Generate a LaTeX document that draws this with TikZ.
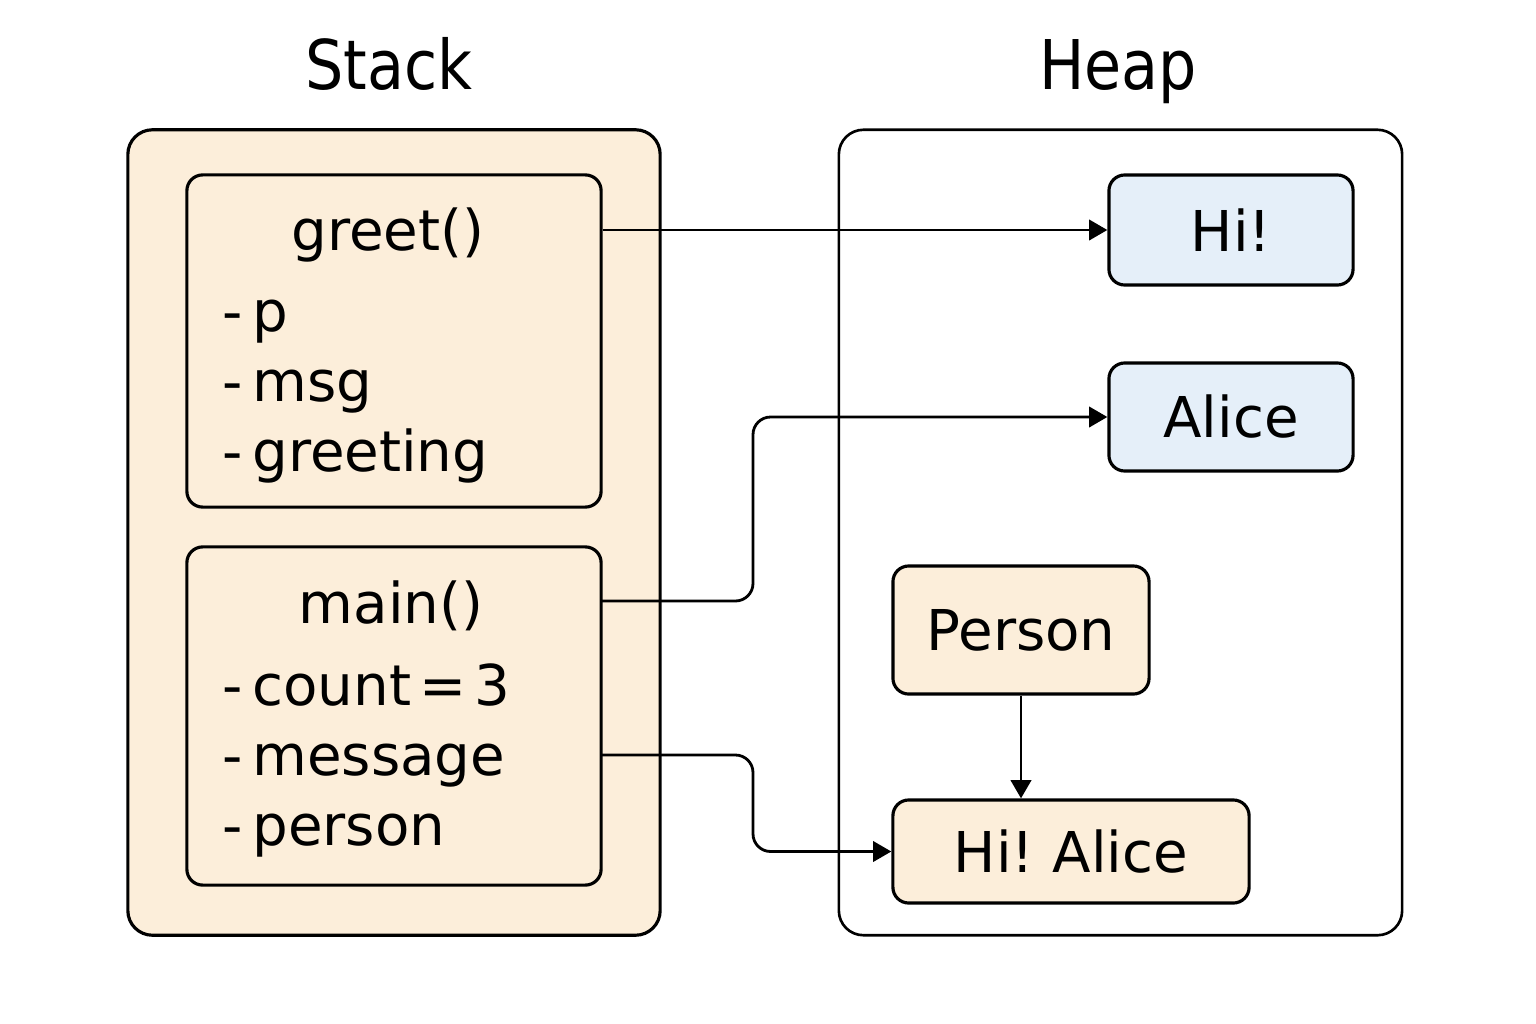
\documentclass[tikz,border=0pt]{standalone}
\usepackage{fontspec}
\setmainfont{DejaVu Sans}
\newfontfamily\titlefont{DejaVu Sans}[FakeStretch=0.88]
\usetikzlibrary{arrows.meta}
\definecolor{stackfill}{HTML}{FCEEDA}
\definecolor{heapblue}{HTML}{E5EFF9}

\begin{document}
\begin{tikzpicture}[x=0.01cm,y=-0.01cm,
	frame/.style={draw,line width=0.9pt,rounded corners=7pt,inner sep=0pt},
	cell/.style={draw,line width=0.9pt,rounded corners=4.5pt,inner sep=0pt,font=\fontsize{16}{19}\selectfont},
	item/.style={anchor=base west,inner sep=0pt,font=\fontsize{16}{19}\selectfont},
	title/.style={anchor=base,inner sep=0pt,font=\titlefont\fontsize{19.5}{23}\selectfont},
	ptr/.style={line width=0.8pt,-{Triangle[length=5.2pt,width=5.8pt]}}]
	
	\useasboundingbox (0,0) rectangle (1536,1024);
	
	\node[title] (stacktitle) at (389,90) {Stack};
	\node[title] (heaptitle) at (1118,90) {Heap};
	
	% stack side
	\node[frame,fill=stackfill,minimum width=5.32cm,minimum height=8.05cm] (stack) at (394,532.5) {};
	\node[cell,fill=stackfill,minimum width=4.14cm,minimum height=3.32cm] (greet) at (394,341) {};
	\node[cell,fill=stackfill,minimum width=4.14cm,minimum height=3.38cm] (main) at (394,716) {};
	
	\node[item,anchor=base] (greetname) at (388,250) {greet()};
	\foreach \t [count=\i] in {p,msg,greeting}
	{
		\node[item] (g\i) at (222,{261+70*\i}) {-\,\t};
	}
	\node[item,anchor=base] (mainname) at (391,623) {main()};
	\foreach \t [count=\i] in {{count\hspace{-0.17em} = \hspace{-0.17em}3},message,person}
	{
		\node[item] (m\i) at (222,{635+70*\i}) {-\,\t};
	}
	
	% heap side
	\node[frame,line width=0.75pt,minimum width=5.63cm,minimum height=8.05cm] (heap) at (1120.5,532.5) {};
	\node[cell,fill=heapblue,minimum width=2.44cm,minimum height=1.10cm] (hi) at (1231,230) {Hi!};
	\node[cell,fill=heapblue,minimum width=2.44cm,minimum height=1.08cm] (alice) at (1231,417) {Alice};
	\node[cell,fill=stackfill,minimum width=2.56cm,minimum height=1.28cm] (person) at (1021,630) {Person};
	\node[cell,fill=stackfill,minimum width=3.56cm,minimum height=1.03cm] (hialice) at (1071,851.5) {Hi!\hspace{-0.1em} Alice};
	
	% pointers
	\coordinate (mainA) at (601,601);
	\coordinate (mainB) at (601,755);
	\draw[ptr] (hi -| greet.east) -- (hi.west);
	\draw[ptr,rounded corners=5pt] (mainA) -- ++(152,0) |- (alice.west);
	\draw[ptr,rounded corners=5pt] (mainB) -- ++(152,0) |- (hialice.west);
	\draw[ptr] (person.south) -- (person.south |- hialice.north);
	
\end{tikzpicture}
\end{document}
